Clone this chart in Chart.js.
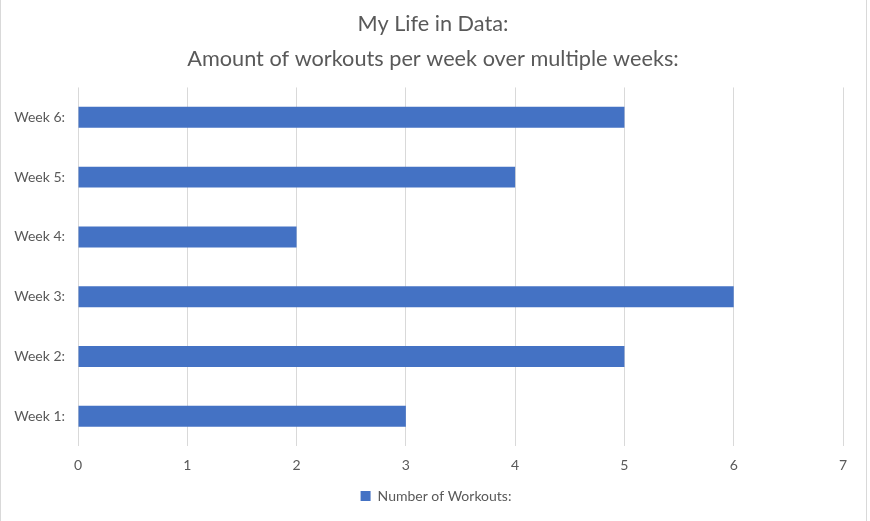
<!DOCTYPE html>
<html>
<head>
<meta charset="utf-8">
<script src="https://cdn.jsdelivr.net/npm/chart.js@4"></script>
<style>
  body { margin: 0; background: #fff; }
  .wrap { position: absolute; left: 0; top: 0; width: 865px; height: 521px;
          border-left: 1px solid #d9d9d9; border-right: 1px solid #d9d9d9; }
</style>
</head>
<body>
<div class="wrap"><canvas id="chart-1" width="865" height="521"></canvas></div>
<script>
// data
const weeks = ['Week 1:', 'Week 2:', 'Week 3:', 'Week 4:', 'Week 5:', 'Week 6:'];
const workouts = [3, 5, 6, 2, 4, 5];
const titleLines = ['My Life in Data:', 'Amount of workouts per week over multiple weeks:'];
const seriesName = 'Number of Workouts:';

const textColor = '#595959';
const ctx1 = document.getElementById('chart-1').getContext('2d');

// geser legend & judul sedikit ke kanan (padding kanan bikin keduanya ke kiri)
const shiftBoxes = {
  id: 'shiftBoxes',
  afterLayout(chart) {
    chart.legend.left += 14;
    chart.legend.right += 14;
    chart.titleBlock.left += 11;
    chart.titleBlock.right += 11;
  },
};

const chart1 = new Chart(ctx1, {
  type: 'bar',
  data: {
    labels: weeks,
    datasets: [
      {
        label: seriesName,
        data: workouts,
        backgroundColor: '#4472C4',
        barPercentage: 0.35,
        categoryPercentage: 1,
      },
    ],
  },
  options: {
    indexAxis: 'y',
    responsive: false,
    animation: false,
    layout: { padding: { left: 0, right: 23, top: 0, bottom: 8 } },
    scales: {
      x: {
        min: 0,
        max: 7,
        ticks: { stepSize: 1, color: textColor, padding: 11, font: { family: 'Lato', size: 14 } },
        grid: { color: '#d9d9d9', drawTicks: false },
        border: { display: false },
      },
      y: {
        reverse: true,
        ticks: { color: textColor, padding: 13, font: { family: 'Lato', size: 14 } },
        grid: { display: false, drawTicks: false },
        border: { display: false },
        afterFit: (scale) => { scale.width = 77; },
      },
    },
    plugins: {
      title: {
        display: true,
        text: titleLines,
        color: textColor,
        font: { family: 'Lato', size: 21.7, weight: 'normal', lineHeight: 1.6 },
        padding: { top: 7, bottom: 11 },
      },
      legend: {
        position: 'bottom',
        labels: {
          color: textColor,
          boxWidth: 10,
          boxHeight: 10,
          padding: 4,
          font: { family: 'Lato', size: 14 },
        },
      },
      tooltip: { enabled: false },
    },
  },
  plugins: [shiftBoxes],
});
</script>
</body>
</html>
